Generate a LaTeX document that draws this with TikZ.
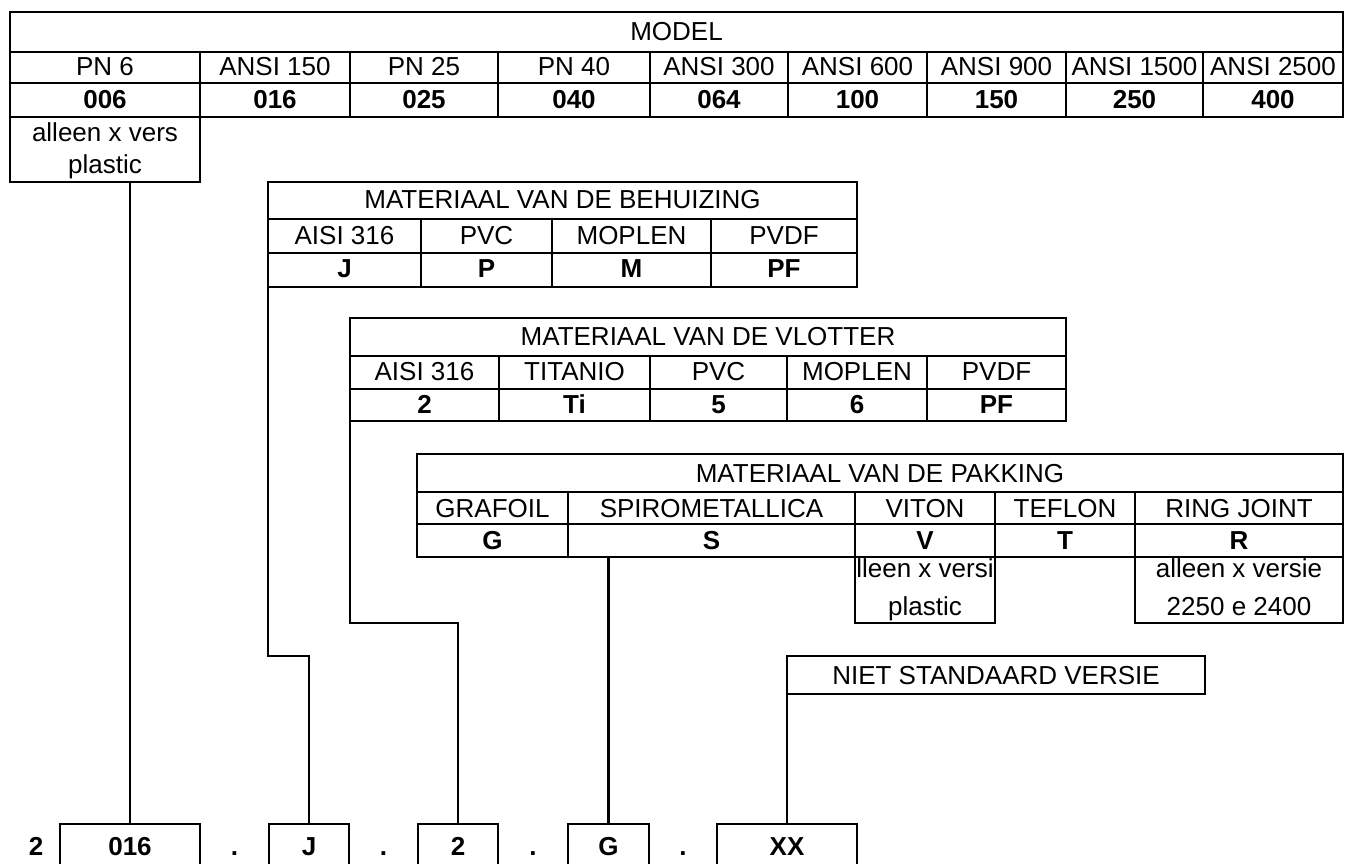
\documentclass[tikz,border=0pt]{standalone}
\usepackage{fontspec}
\setmainfont{Liberation Sans}
\begin{document}
\begin{tikzpicture}[x=1pt,y=-1pt]
\tikzset{
 gridline/.style={line width=2.5pt},
 conn/.style={line width=2.2pt},
 frame/.style={draw, line width=2.5pt, inner sep=0pt, outer sep=0pt, anchor=north west},
 hole/.style={inner sep=0pt, outer sep=0pt, anchor=north west},
 txt/.style={anchor=base, inner sep=0pt, font=\fontsize{26}{30}\selectfont},
 btxt/.style={anchor=base, inner sep=0pt, font=\fontsize{26}{30}\selectfont\bfseries},
}
\useasboundingbox (0,0) rectangle (1351,863);
\fill[white] (0,0) rectangle (1351,863);

% ---------------- MODEL table ----------------
\node[frame, minimum width=1333, minimum height=105] (model) at (10,12) {};
\draw[gridline] (10,52) -- (1343,52);
\draw[gridline] (10,83) -- (1343,83);
\foreach \x in {200,350,498,650,788,927,1066,1203}
  \draw[gridline] (\x,52) -- (\x,117);
\node[txt] (mt) at (676.5,40) {MODEL};
\node[txt] (m1) at (105,75.5) {PN 6};
\node[txt] (m2) at (275,75.5) {ANSI 150};
\node[txt] (m3) at (424,75.5) {PN 25};
\node[txt] (m4) at (574,75.5) {PN 40};
\node[txt] (m5) at (719,75.5) {ANSI 300};
\node[txt] (m6) at (857.5,75.5) {ANSI 600};
\node[txt] (m7) at (996.5,75.5) {ANSI 900};
\node[txt] (m8) at (1134.5,75.5) {ANSI 1500};
\node[txt] (m9) at (1273,75.5) {ANSI 2500};
\node[btxt] (c1) at (105,108) {006};
\node[btxt] (c2) at (275,108) {016};
\node[btxt] (c3) at (424,108) {025};
\node[btxt] (c4) at (574,108) {040};
\node[btxt] (c5) at (719,108) {064};
\node[btxt] (c6) at (857.5,108) {100};
\node[btxt] (c7) at (996.5,108) {150};
\node[btxt] (c8) at (1134.5,108) {250};
\node[btxt] (c9) at (1273,108) {400};

\node[hole, minimum width=190, minimum height=65] (alleen) at (10,117) {};
\draw[gridline] (alleen.north west) |- (alleen.south east) -- (alleen.north east);
\node[txt] (al1) at (105,141) {alleen x vers};
\node[txt] (al2) at (105,173) {plastic};

% ---------------- BEHUIZING table ----------------
\node[frame, minimum width=589, minimum height=105] (beh) at (268,182) {};
\draw[gridline] (268,219) -- (857,219);
\draw[gridline] (268,253) -- (857,253);
\foreach \x in {421,552,711}
  \draw[gridline] (\x,219) -- (\x,287);
\node[txt] (bt) at (562.5,208) {MATERIAAL VAN DE BEHUIZING};
\node[txt] (b1) at (344.5,244) {AISI 316};
\node[txt] (b2) at (486.5,244) {PVC};
\node[txt] (b3) at (631.5,244) {MOPLEN};
\node[txt] (b4) at (784,244) {PVDF};
\node[btxt] (bc1) at (344.5,277) {J};
\node[btxt] (bc2) at (486.5,277) {P};
\node[btxt] (bc3) at (631.5,277) {M};
\node[btxt] (bc4) at (784,277) {PF};

% ---------------- VLOTTER table ----------------
\node[frame, minimum width=716, minimum height=103] (vl) at (350,318) {};
\draw[gridline] (350,356) -- (1066,356);
\draw[gridline] (350,389) -- (1066,389);
\foreach \x in {499,650,787,927}
  \draw[gridline] (\x,356) -- (\x,421);
\node[txt] (vt) at (708,345) {MATERIAAL VAN DE VLOTTER};
\node[txt] (v1) at (424.5,380.5) {AISI 316};
\node[txt] (v2) at (574.5,380.5) {TITANIO};
\node[txt] (v3) at (718.5,380.5) {PVC};
\node[txt] (v4) at (857,380.5) {MOPLEN};
\node[txt] (v5) at (996.5,380.5) {PVDF};
\node[btxt] (vc1) at (424.5,413) {2};
\node[btxt] (vc2) at (574.5,413) {Ti};
\node[btxt] (vc3) at (718.5,413) {5};
\node[btxt] (vc4) at (857,413) {6};
\node[btxt] (vc5) at (996.5,413) {PF};

% ---------------- PAKKING table ----------------
\node[frame, minimum width=926, minimum height=103] (pak) at (417,454) {};
\draw[gridline] (417,492) -- (1343,492);
\draw[gridline] (417,524) -- (1343,524);
\foreach \x in {568,855,995,1135}
  \draw[gridline] (\x,492) -- (\x,557);
\node[txt] (pt) at (880,482) {MATERIAAL VAN DE PAKKING};
\node[txt] (p1) at (492.5,517) {GRAFOIL};
\node[txt] (p2) at (711.5,517) {SPIROMETALLICA};
\node[txt] (p3) at (925,517) {VITON};
\node[txt] (p4) at (1065,517) {TEFLON};
\node[txt] (p5) at (1239,517) {RING JOINT};
\node[btxt] (pc1) at (492.5,549) {G};
\node[btxt] (pc2) at (711.5,549) {S};
\node[btxt] (pc3) at (925,549) {V};
\node[btxt] (pc4) at (1065,549) {T};
\node[btxt] (pc5) at (1239,549) {R};

\node[hole, minimum width=140, minimum height=66] (vnote) at (855,557) {};
\draw[gridline] (vnote.north west) |- (vnote.south east) -- (vnote.north east);
\node[txt] (vn1) at (925,577) {lleen x versi};
\node[txt] (vn2) at (925,615) {plastic};

\node[hole, minimum width=208, minimum height=66] (rnote) at (1135,557) {};
\draw[gridline] (rnote.north west) |- (rnote.south east) -- (rnote.north east);
\node[txt] (rn1) at (1239,577) {alleen x versie};
\node[txt] (rn2) at (1239,615) {2250 e 2400};

% ---------------- NIET STANDAARD ----------------
\node[frame, minimum width=418, minimum height=38] (niet) at (787,656) {};
\node[txt] (nt) at (996,684) {NIET STANDAARD VERSIE};

% ---------------- bottom code row ----------------
\node[hole, minimum width=140, minimum height=45] (b016) at (60,824) {};
\node[hole, minimum width=80, minimum height=45] (bJ) at (269,824) {};
\node[hole, minimum width=80, minimum height=45] (bV) at (418,824) {};
\node[hole, minimum width=81, minimum height=45] (bG) at (568,824) {};
\node[hole, minimum width=140, minimum height=45] (bX) at (717,824) {};
\foreach \b in {b016,bJ,bV,bG,bX}
  \draw[gridline] (\b.south west) |- (\b.north east) -- (\b.south east);
\node[btxt] (s0) at (36,855) {2};
\node[btxt] (s1) at (130,855) {016};
\node[btxt] (d1) at (234.5,855) {.};
\node[btxt] (s2) at (309,855) {J};
\node[btxt] (d2) at (383.5,855) {.};
\node[btxt] (s3) at (458,855) {2};
\node[btxt] (d3) at (533,855) {.};
\node[btxt] (s4) at (608.5,855) {G};
\node[btxt] (d4) at (683,855) {.};
\node[btxt] (s5) at (787,855) {XX};

% ---------------- connectors ----------------
\draw[conn] (b016.north) -- (b016.north |- alleen.south);
\draw[conn] (beh.south west) -- ++(0,369) -| (bJ.north);
\draw[conn] (vl.south west) -- ++(0,202) -| (bV.north);
\draw[conn] (bG.north) -- (bG.north |- pak.south);
\draw[conn] (niet.south west) -- (niet.south west |- bX.north);
\end{tikzpicture}
\end{document}
